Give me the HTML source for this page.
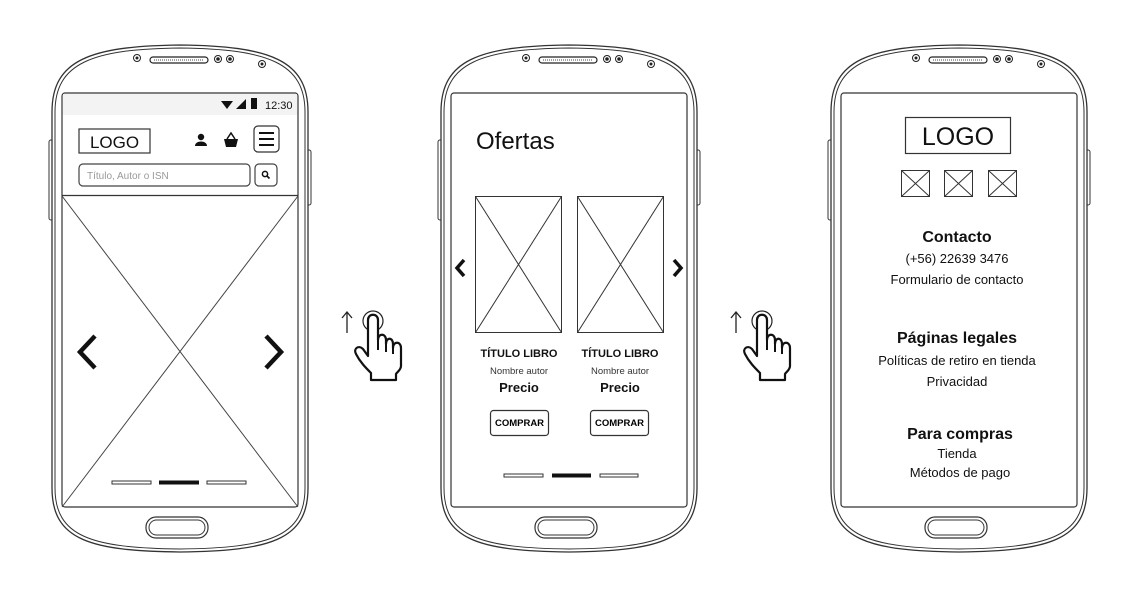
<!DOCTYPE html>
<html><head><meta charset="utf-8"><style>
html,body{margin:0;padding:0;background:#fff;}
svg{display:block;font-family:"Liberation Sans",sans-serif;}
</style></head><body>
<svg width="1140" height="608" viewBox="0 0 1140 608" xmlns="http://www.w3.org/2000/svg">
<defs>
<g id="phone">
  <rect x="49" y="140" width="5" height="80" rx="2" fill="#fff" stroke="#333" stroke-width="1"/>
  <rect x="306" y="150" width="5" height="55" rx="2" fill="#fff" stroke="#333" stroke-width="1"/>
  <path d="M52,112 C52,60 90,46 180,45 C270,46 308,60 308,112 L308,488 C308,540 270,551 180,552 C90,551 52,540 52,488 Z" fill="#fff" stroke="#333" stroke-width="1.3"/>
  <path d="M55,112 C55,63 92,49 180,48 C268,49 305,63 305,112 L305,488 C305,537 268,548 180,549 C92,548 55,537 55,488 Z" fill="none" stroke="#333" stroke-width="1"/>
  <rect x="150" y="57" width="58" height="6" rx="3" fill="#fff" stroke="#222" stroke-width="1.2"/>
  <line x1="154" y1="60" x2="204" y2="60" stroke="#444" stroke-width="1" stroke-dasharray="1 1"/>
  <circle cx="137" cy="58" r="3.5" fill="#fff" stroke="#222"/><circle cx="137" cy="58" r="1.5" fill="#222"/>
  <circle cx="218" cy="59" r="3.5" fill="#fff" stroke="#222"/><circle cx="218" cy="59" r="1.8" fill="#222"/>
  <circle cx="230" cy="59" r="3.5" fill="#fff" stroke="#222"/><circle cx="230" cy="59" r="1.8" fill="#222"/>
  <circle cx="262" cy="64" r="3.5" fill="#fff" stroke="#222"/><circle cx="262" cy="64" r="1.5" fill="#222"/>
  <rect x="62" y="93" width="236" height="414" rx="3" fill="#fff" stroke="#333" stroke-width="1.2"/>
  <rect x="146" y="517" width="62" height="21" rx="10" fill="#fff" stroke="#333" stroke-width="1.2"/>
  <rect x="149" y="520" width="56" height="15" rx="7.5" fill="none" stroke="#333" stroke-width="1"/>
</g>
<g id="hand">
  <line x1="347" y1="333" x2="347" y2="313" stroke="#222" stroke-width="1.3"/>
  <path d="M342,318 L347,312 L352,318" fill="none" stroke="#222" stroke-width="1.3"/>
  <circle cx="373" cy="321" r="10" fill="none" stroke="#222" stroke-width="1.2"/>
  <path d="M368,356 L368,320 C368,313 378,313 378,320 L378,340 C378,333 386,333 386,340 L386,344 C386,337 393,337 393,344 L393,348 C393,341 401,341 401,348 L401,366 C401,370 397,372 396,374 L396,380 L371,380 L371,373 C366,368 360,362 356,354 C353,348 359,345 363,349 Z" fill="#fff" stroke="#111" stroke-width="2.2" stroke-linejoin="round"/>
  <line x1="378" y1="340" x2="378" y2="350" stroke="#111" stroke-width="2"/>
  <line x1="386" y1="344" x2="386" y2="352" stroke="#111" stroke-width="2"/>
  <line x1="393" y1="348" x2="393" y2="354" stroke="#111" stroke-width="2"/>
</g>
</defs>

<use href="#phone"/>
<use href="#phone" x="389"/>
<use href="#phone" x="779"/>
<use href="#hand"/>
<use href="#hand" x="389"/>

<!-- Phone 1 -->
<rect x="63" y="94" width="234" height="21" fill="#f3f3f3"/>
<path d="M221,101 L233,101 L227,109 Z" fill="#111"/>
<path d="M236,109 L246,99 L246,109 Z" fill="#111"/>
<rect x="251" y="98" width="6" height="11" fill="#111"/>
<text x="265" y="109" font-size="11" fill="#111">12:30</text>
<rect x="79" y="129" width="71" height="24" fill="#fff" stroke="#333" stroke-width="1.2"/>
<text x="114.5" y="148" font-size="17" text-anchor="middle" fill="#111">LOGO</text>
<circle cx="201" cy="137" r="3.2" fill="#111"/>
<path d="M195,146 C195,140 207,140 207,146 Z" fill="#111"/>
<path d="M224,139 L238,139 L236,147 L226,147 Z" fill="#111"/>
<path d="M227,139 L231,133 L235,139" fill="none" stroke="#111" stroke-width="1.5"/>
<rect x="254" y="126" width="25" height="26" rx="4" fill="#fff" stroke="#333" stroke-width="1.2"/>
<path d="M259,133 H274 M259,139 H274 M259,145 H274" stroke="#111" stroke-width="2"/>
<rect x="79" y="164" width="171" height="22" rx="4" fill="#fff" stroke="#444" stroke-width="1.2"/>
<text x="87" y="179" font-size="10" fill="#999">Título, Autor o ISN</text>
<rect x="255" y="164" width="22" height="22" rx="4" fill="#fff" stroke="#444" stroke-width="1.2"/>
<circle cx="265" cy="174" r="2.6" fill="none" stroke="#111" stroke-width="1.5"/>
<line x1="267" y1="176" x2="269.5" y2="178.5" stroke="#111" stroke-width="1.6"/>
<line x1="62" y1="195.5" x2="298" y2="195.5" stroke="#333" stroke-width="1.2"/>
<line x1="62" y1="196" x2="298" y2="507" stroke="#444" stroke-width="1"/>
<line x1="298" y1="196" x2="62" y2="507" stroke="#444" stroke-width="1"/>
<path d="M95,336 L80,352 L95,368" fill="none" stroke="#111" stroke-width="4.5"/>
<path d="M266,336 L281,352 L266,368" fill="none" stroke="#111" stroke-width="4.5"/>
<rect x="112" y="481" width="39" height="3" fill="#fff" stroke="#333"/>
<rect x="159" y="480.5" width="40" height="4" fill="#111"/>
<rect x="207" y="481" width="39" height="3" fill="#fff" stroke="#333"/>

<!-- Phone 2 -->
<text x="476" y="149" font-size="24" fill="#111">Ofertas</text>
<g stroke="#333" stroke-width="1" fill="none">
<rect x="475.5" y="196.5" width="86" height="136"/>
<line x1="475.5" y1="196.5" x2="561.5" y2="332.5"/><line x1="561.5" y1="196.5" x2="475.5" y2="332.5"/>
<rect x="577.5" y="196.5" width="86" height="136"/>
<line x1="577.5" y1="196.5" x2="663.5" y2="332.5"/><line x1="663.5" y1="196.5" x2="577.5" y2="332.5"/>
</g>
<path d="M464,260 L457,268 L464,276" fill="none" stroke="#111" stroke-width="3.5"/>
<path d="M674,260 L681,268 L674,276" fill="none" stroke="#111" stroke-width="3.5"/>
<g text-anchor="middle" fill="#111">
<text x="519" y="357" font-size="11" font-weight="bold">TÍTULO LIBRO</text>
<text x="620" y="357" font-size="11" font-weight="bold">TÍTULO LIBRO</text>
<text x="519" y="374" font-size="9.5" fill="#333">Nombre autor</text>
<text x="620" y="374" font-size="9.5" fill="#333">Nombre autor</text>
<text x="519" y="392" font-size="13" font-weight="bold">Precio</text>
<text x="620" y="392" font-size="13" font-weight="bold">Precio</text>
</g>
<rect x="490.5" y="410.5" width="58" height="25" rx="3" fill="#fff" stroke="#333" stroke-width="1.2"/>
<rect x="590.5" y="410.5" width="58" height="25" rx="3" fill="#fff" stroke="#333" stroke-width="1.2"/>
<text x="519.5" y="426" font-size="9.5" font-weight="bold" text-anchor="middle">COMPRAR</text>
<text x="619.5" y="426" font-size="9.5" font-weight="bold" text-anchor="middle">COMPRAR</text>
<rect x="504" y="474" width="39" height="3" fill="#fff" stroke="#333"/>
<rect x="552" y="473.5" width="39" height="4" fill="#111"/>
<rect x="600" y="474" width="38" height="3" fill="#fff" stroke="#333"/>

<!-- Phone 3 -->
<rect x="905.5" y="117.5" width="105" height="36" fill="#fff" stroke="#333" stroke-width="1.2"/>
<text x="958" y="145" font-size="25" text-anchor="middle" fill="#111">LOGO</text>
<g stroke="#333" stroke-width="1" fill="none">
<rect x="901.5" y="170.5" width="28" height="26"/><line x1="901.5" y1="170.5" x2="929.5" y2="196.5"/><line x1="929.5" y1="170.5" x2="901.5" y2="196.5"/>
<rect x="944.5" y="170.5" width="28" height="26"/><line x1="944.5" y1="170.5" x2="972.5" y2="196.5"/><line x1="972.5" y1="170.5" x2="944.5" y2="196.5"/>
<rect x="988.5" y="170.5" width="28" height="26"/><line x1="988.5" y1="170.5" x2="1016.5" y2="196.5"/><line x1="1016.5" y1="170.5" x2="988.5" y2="196.5"/>
</g>
<g text-anchor="middle" fill="#111">
<text x="957" y="242" font-size="16" font-weight="bold">Contacto</text>
<text x="957" y="263" font-size="13">(+56) 22639 3476</text>
<text x="957" y="284" font-size="13">Formulario de contacto</text>
<text x="957" y="343" font-size="16" font-weight="bold">Páginas legales</text>
<text x="957" y="365" font-size="13">Políticas de retiro en tienda</text>
<text x="957" y="386" font-size="13">Privacidad</text>
<text x="960" y="439" font-size="16" font-weight="bold">Para compras</text>
<text x="957" y="458" font-size="13">Tienda</text>
<text x="960" y="477" font-size="13">Métodos de pago</text>
</g>
</svg>
</body></html>
